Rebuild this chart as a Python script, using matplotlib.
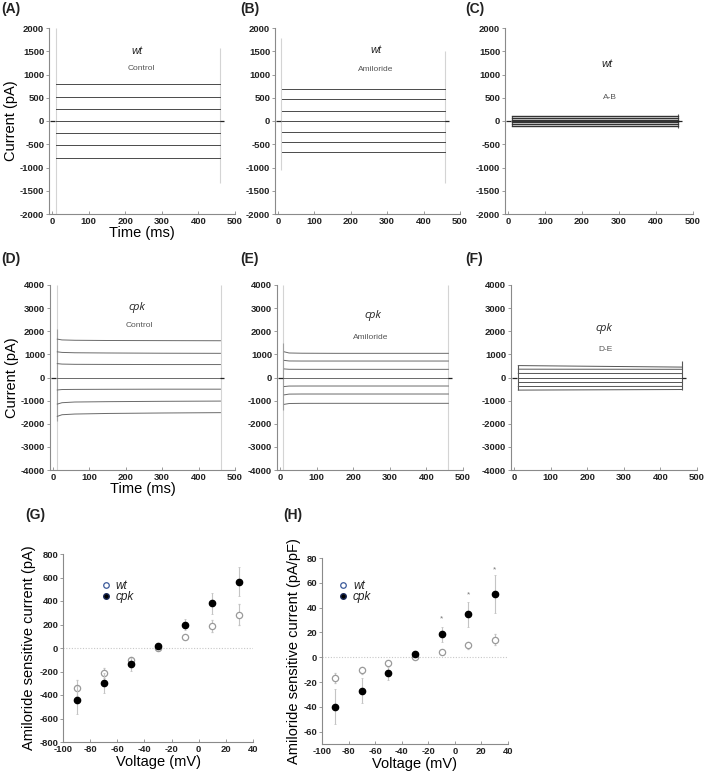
import matplotlib.pyplot as plt
from matplotlib.lines import Line2D

plt.rcParams['font.family'] = ['Liberation Sans', 'DejaVu Sans']

# ---- current traces, steady-state levels in pA ----
# wt: (A) control, (B) amiloride, (C) A-B
wt_t = [12, 459]
wt_control = [805, 510, 250, 0, -255, -525, -790]
wt_amiloride = [695, 475, 225, 0, -235, -450, -670]
wt_diff = [105, 60, 25, 0, -30, -70, -105]

# cpk: (D) control, (E) amiloride, (F) D-E  (a few samples keep the early decay)
cpk_t = [12, 25, 60, 150, 300, 460]
cpk_control = [
    [1660, 1625, 1610, 1600, 1595, 1590],
    [1110, 1085, 1070, 1060, 1050, 1045],
    [600, 580, 570, 565, 560, 560],
    [0, 0, 0, 0, 0, 0],
    [-540, -520, -515, -510, -505, -505],
    [-1150, -1090, -1060, -1045, -1030, -1020],
    [-1680, -1610, -1580, -1555, -1535, -1520],
]
cpk_amiloride = [
    [1110, 1060, 1050, 1045, 1045, 1045],
    [740, 715, 712, 712, 712, 712],
    [370, 355, 353, 353, 353, 353],
    [0, 0, 0, 0, 0, 0],
    [-390, -370, -368, -368, -368, -368],
    [-750, -718, -714, -714, -714, -714],
    [-1160, -1125, -1118, -1117, -1117, -1117],
]
cpk_diff_t = [12, 459]
cpk_diff = [[515, 450], [360, 355], [175, 170], [0, 0], [-200, -200], [-390, -385], [-545, -520]]

# capacitive transients: (time, low, high, colour)
light = '#d4d4d4'
mid = '#a0a0a0'
dark = '#555555'
trans_A = [(10, -2000, 2000, light), (459, -1330, 1570, light)]
trans_B = [(9, -1050, 1780, light), (459, -1330, 1500, light)]
trans_C = [(10, -110, 110, dark), (459, -140, 140, dark)]
trans_D = [(11, -4000, 4000, light), (11, -1900, 2100, mid), (462, -4000, 4000, light)]
trans_E = [(8, -4000, 4000, light), (8, -1400, 1500, mid), (459, -4000, 4000, light)]
trans_F = [(10, -540, 520, dark), (460, -540, 720, dark)]

# ---- I-V relations ----
volt = [-90, -70, -50, -30, -10, 10, 30]
g_wt = [-340, -215, -100, 0, 90, 190, 285]
g_wt_err = [68, 43, 20, 10, 15, 50, 87]
g_cpk = [-445, -300, -140, 20, 200, 380, 565]
g_cpk_err = [120, 87, 55, 15, 50, 87, 125]

h_wt = [-16.5, -10.5, -5, 0.5, 4.5, 9.5, 14]
h_wt_err = [4, 3, 2, 1, 1.5, 3, 4.5]
h_cpk = [-40, -27, -13, 2.5, 18.5, 34.5, 51]
h_cpk_err = [14, 10, 5, 1.5, 6, 10, 15]
h_star_v = [-10, 10, 30]
h_star_y = [31, 50, 70.5]

W, H = 709, 780
fig = plt.figure(figsize=(W / 100, H / 100), dpi=100)
fig.patch.set_facecolor('white')

TICK_FS = 6.8
LABEL_FS = 10.5


def px_axes(l, t, r, b):
    return fig.add_axes([l / W, 1 - b / H, (r - l) / W, (b - t) / H])


def set_ticks(ax, xt, yt):
    # bold tick labels, like the original figure
    ax.set_xticks(list(xt), [str(v) for v in xt], fontweight='bold')
    ax.set_yticks(list(yt), [str(v) for v in yt], fontweight='bold')


def style(ax):
    for s in ['top', 'right']:
        ax.spines[s].set_visible(False)
    for s in ['left', 'bottom']:
        ax.spines[s].set_color('#8a8a8a')
        ax.spines[s].set_linewidth(0.8)
    ax.tick_params(axis='y', direction='out', length=2, width=0.6, color='#8a8a8a', pad=1.5,
                   labelsize=TICK_FS, labelcolor='#222222')
    ax.tick_params(axis='x', direction='in', length=2, width=0.6, color='#8a8a8a', pad=2,
                   labelsize=TICK_FS, labelcolor='#222222')


def trace_panel(ax, ymax, ystep, t, traces, trans, genotype, cond, gpos, cpos,
                lw=0.7, col='#4a4a4a', gfont=None):
    for lo_t, lo, hi, c in trans:
        ax.vlines(lo_t, lo, hi, color=c, lw=0.8, zorder=1)
    for tr in traces:
        ax.plot(t, tr, color=col, lw=lw, zorder=2)
    # holding level markers
    ax.hlines(0, -4, 8, color='#222222', lw=0.9, zorder=3)
    ax.hlines(0, 458, 469, color='#222222', lw=0.9, zorder=3)
    ax.set_xlim(-8, 500)
    ax.set_ylim(-ymax, ymax)
    set_ticks(ax, range(0, 501, 100), range(-ymax, ymax + 1, ystep))
    ax.text(gpos[0], gpos[1], genotype, style='italic', fontsize=8, ha='center', va='center',
            color='#222222', family=gfont)
    ax.text(cpos[0], cpos[1], cond, fontsize=6, ha='center', va='center', color='#555555')
    style(ax)


def flat(levels, t):
    return [[v] * len(t) for v in levels]


# ---- top row: wt ----
axA = px_axes(49, 28, 235, 214)
trace_panel(axA, 2000, 500, wt_t, flat(wt_control, wt_t), trans_A, 'wt', 'Control',
            (232, 1500), (245, 1125))
axA.set_ylabel('Current (pA)', fontsize=LABEL_FS, labelpad=1)
axA.set_xlabel('Time (ms)', fontsize=LABEL_FS, labelpad=0)

axB = px_axes(275, 28, 460, 214)
trace_panel(axB, 2000, 500, wt_t, flat(wt_amiloride, wt_t), trans_B, 'wt', 'Amiloride',
            (270, 1530), (268, 1100))

axC = px_axes(505, 28, 693, 214)
trace_panel(axC, 2000, 500, wt_t, flat(wt_diff, wt_t), trans_C, 'wt', 'A-B',
            (267, 1230), (276, 500), lw=1.0, col='#333333')

# ---- middle row: cpk ----
axD = px_axes(50, 285, 235, 470)
trace_panel(axD, 4000, 1000, cpk_t, cpk_control, trans_D, 'cpk', 'Control',
            (230, 3035), (237, 2230), lw=0.7, col='#6a6a6a', gfont=['Open Sans', 'DejaVu Sans'])
axD.set_ylabel('Current (pA)', fontsize=LABEL_FS, labelpad=1)
axD.set_xlabel('Time (ms)', fontsize=LABEL_FS, labelpad=0)

axE = px_axes(277, 285, 463, 470)
trace_panel(axE, 4000, 1000, cpk_t, cpk_amiloride, trans_E, 'cpk', 'Amiloride',
            (254, 2700), (248, 1740), lw=0.7, col='#6a6a6a', gfont=['Open Sans', 'DejaVu Sans'])

axF = px_axes(511, 285, 697, 470)
trace_panel(axF, 4000, 1000, cpk_diff_t, cpk_diff, trans_F, 'cpk', 'D-E',
            (246, 2100), (250, 1220), lw=0.7, col='#555555', gfont=['Open Sans', 'DejaVu Sans'])


# ---- bottom row: I-V ----
def iv_panel(ax, wt, wt_err, cpk, cpk_err, ylim, yticks, leg_anchor):
    ax.axhline(0, color='#c8c8c8', lw=0.8, ls=(0, (1, 1.5)), zorder=0)
    ax.errorbar(volt, wt, yerr=wt_err, fmt='o', ms=4.5, mfc='white', mec='#9a9a9a', mew=0.9,
                ecolor='#c4c4c4', elinewidth=0.8, capsize=1, capthick=0.6, zorder=2)
    ax.errorbar(volt, cpk, yerr=cpk_err, fmt='o', ms=4.5, mfc='black', mec='black',
                ecolor='#c4c4c4', elinewidth=0.8, capsize=1, capthick=0.6, zorder=3)
    ax.set_xlim(-100, 40)
    ax.set_ylim(*ylim)
    set_ticks(ax, range(-100, 41, 20), yticks)
    ax.set_xlabel('Voltage (mV)', fontsize=LABEL_FS, labelpad=1)
    handles = [
        Line2D([], [], ls='none', marker='o', ms=4, mfc='white', mec='#3b5a9a', mew=0.9),
        Line2D([], [], ls='none', marker='o', ms=4, mfc='black', mec='#1a2a5a'),
    ]
    leg = ax.legend(handles, ['wt', 'cpk'], loc='upper left', bbox_to_anchor=leg_anchor,
                    frameon=False, handlelength=0.8, handletextpad=0.4, labelspacing=-0.1,
                    borderaxespad=0, borderpad=0, prop={'size': 8.5, 'style': 'italic'})
    for txt in leg.get_texts():
        txt.set_color('#222222')
    style(ax)


axG = px_axes(63, 554, 253, 742)
iv_panel(axG, g_wt, g_wt_err, g_cpk, g_cpk_err, (-800, 800), range(-800, 801, 200),
         (0.2, 0.86))
axG.set_ylabel('Amiloride sensitive current (pA)', fontsize=LABEL_FS, labelpad=2)

axH = px_axes(322, 558, 508, 744)
iv_panel(axH, h_wt, h_wt_err, h_cpk, h_cpk_err, (-70, 80), range(-60, 81, 20),
         (0.09, 0.88))
axH.set_ylabel('Amiloride sensitive current (pA/pF)', fontsize=LABEL_FS, labelpad=2)
for v, y in zip(h_star_v, h_star_y):
    axH.text(v, y, '*', fontsize=6, color='#777777', ha='center', va='center')

# panel letters
letters = [('(A)', 1, 2), ('(B)', 240, 2), ('(C)', 465, 2),
           ('(D)', 1, 252), ('(E)', 240, 252), ('(F)', 465, 252),
           ('(G)', 25, 508), ('(H)', 283, 508)]
for lab, x, y in letters:
    fig.text(x / W, 1 - y / H, lab, fontsize=10, fontweight='bold', va='top', ha='left',
             color='#222222')

fig.savefig('out.png', dpi=100)
